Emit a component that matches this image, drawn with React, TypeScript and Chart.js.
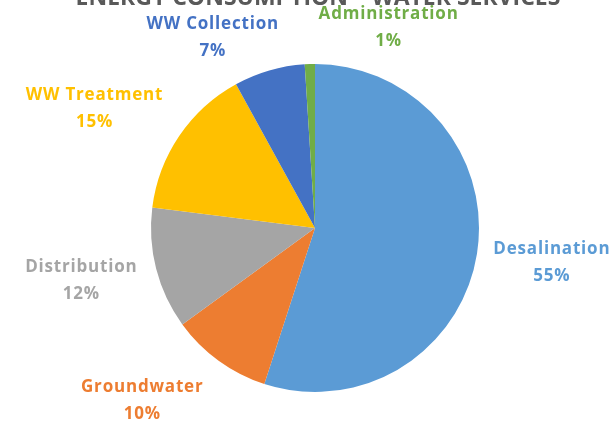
import React, { useEffect, useRef } from "react";
import { Chart, registerables } from "chart.js";

Chart.register(...registerables);

const titleText = "ENERGY CONSUMPTION – WATER SERVICES";
const categories = [
  "Desalination",
  "Groundwater",
  "Distribution",
  "WW Treatment",
  "WW Collection",
  "Administration",
];
const shares = [55, 10, 12, 15, 7, 1];
const sliceColors = ["#5B9BD5", "#ED7D31", "#A5A5A5", "#FFC000", "#4472C4", "#70AD47"];
const labelColors = ["#5B9BD5", "#ED7D31", "#A5A5A5", "#FFC000", "#4472C4", "#70AD47"];

// label placement options (angle shift in degrees, distance as multiple of radius)
const labelLayout = [
  { shift: -0.6, dist: 1.46 },
  { shift: 9, dist: 1.49 },
  { shift: 1.8, dist: 1.46 },
  { shift: -5.7, dist: 1.53 },
  { shift: -12, dist: 1.32 },
  { shift: 22, dist: 1.3 },
];

const labelPlugin = {
  id: "outsideLabels",
  afterDraw(chart: any) {
    const ctx = chart.ctx;
    const meta = chart.getDatasetMeta(0);
    const total = shares.reduce((a, b) => a + b, 0);
    ctx.save();
    // title
    const ca = chart.chartArea;
    ctx.font = "bold 23px 'Open Sans'";
    ctx.fillStyle = "#595959";
    ctx.textAlign = "center";
    ctx.textBaseline = "alphabetic";
    ctx.fillText(titleText, (ca.left + ca.right) / 2 + 3, 5);
    ctx.font = "bold 17px 'Open Sans'";
    (ctx as any).letterSpacing = "0.8px";
    ctx.textBaseline = "middle";
    meta.data.forEach((arc: any, i: number) => {
      const p = arc.getProps(["x", "y", "startAngle", "endAngle", "outerRadius"], true);
      const lay = labelLayout[i];
      const mid = (p.startAngle + p.endAngle) / 2 + (lay.shift * Math.PI) / 180;
      const r = p.outerRadius * lay.dist;
      const cx = p.x + Math.cos(mid) * r;
      const cy = p.y + Math.sin(mid) * r;
      const pct = Math.round((shares[i] / total) * 100) + "%";
      ctx.fillStyle = labelColors[i];
      ctx.fillText(categories[i], cx, cy - 13.5);
      ctx.fillText(pct, cx, cy + 13.5);
    });
    ctx.restore();
  },
};

export default function App() {
  const ref = useRef<HTMLCanvasElement | null>(null);
  useEffect(() => {
    if (!ref.current) return;
    const chart = new Chart(ref.current, {
      type: "pie",
      data: {
        labels: categories,
        datasets: [
          {
            data: shares,
            backgroundColor: sliceColors,
            borderWidth: 0,
          },
        ],
      },
      options: {
        animation: false,
        responsive: true,
        maintainAspectRatio: false,
        layout: { padding: { top: 64, bottom: 30, left: 151, right: 132 } },
        plugins: {
          legend: { display: false },
          title: { display: false },
          tooltip: { enabled: false },
        },
      },
      plugins: [labelPlugin],
    });
    return () => chart.destroy();
  }, []);
  return (
    <div style={{ position: "fixed", left: 0, top: 0, width: 611, height: 422, background: "#fff" }}>
      <canvas ref={ref} />
    </div>
  );
}
